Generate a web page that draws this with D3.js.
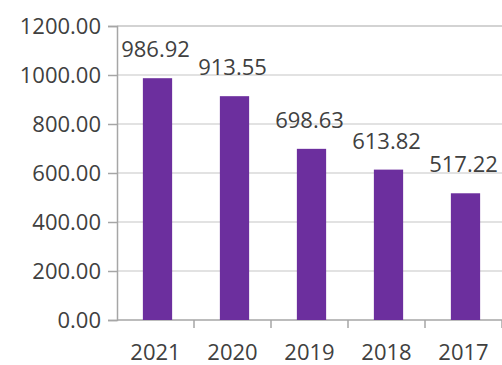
<!DOCTYPE html>
<html><head><meta charset="utf-8">
<script src="https://cdn.jsdelivr.net/npm/d3@7"></script>
<style>
html,body{margin:0;padding:0;background:#fff;}
svg{display:block;}
text{font-family:"Open Sans",sans-serif;}
</style></head>
<body><svg id="c" width="502" height="365"></svg>
<script>
const categories = ["2021","2020","2019","2018","2017"];
const values = [986.92, 913.55, 698.63, 613.82, 517.22];
const yTicks = [0,200,400,600,800,1000,1200];

(function(){
const svg = d3.select("#c");
const mLeft = 117, mRight = 502, mTop = 26, mBottom = 320;
const fs = 22;
const x = d3.scaleBand().domain(categories).range([mLeft, mRight]).paddingInner(0.62).paddingOuter(0.31);
const xb = d3.scaleBand().domain(categories).range([mLeft, mRight]);
const y = d3.scaleLinear().domain([0,1200]).range([mBottom, mTop]);

// gridlines
svg.append("g").selectAll("line").data(yTicks.filter(d=>d>0)).join("line")
  .attr("x1", mLeft).attr("x2", mRight)
  .attr("y1", d=>y(d)).attr("y2", d=>y(d))
  .attr("stroke", d=> d===1200 ? "#c4c4c4" : "#d9d9d9").attr("stroke-width", 1.5);

// y axis
const ya = svg.append("g").attr("transform", `translate(${mLeft},0)`)
  .call(d3.axisLeft(y).tickValues(yTicks).tickFormat(d3.format(".2f")).tickSize(9).tickPadding(7));
ya.select(".domain").attr("stroke", "#a6a6a6").attr("stroke-width", 1.5);
ya.selectAll(".tick line").attr("stroke", "#a6a6a6").attr("stroke-width", 1.5);
ya.selectAll("text").attr("font-size", fs).attr("fill", "#404040").attr("font-family", "Open Sans, sans-serif");

// x axis
const xa = svg.append("g").attr("transform", `translate(0,${mBottom})`);
xa.append("line").attr("x1", mLeft).attr("x2", mRight).attr("y1",0).attr("y2",0)
  .attr("stroke", "#a6a6a6").attr("stroke-width", 1.5);
xa.selectAll("line.tk").data(categories).join("line").attr("class","tk")
  .attr("x1", d=>xb(d)+xb.bandwidth()).attr("x2", d=>xb(d)+xb.bandwidth())
  .attr("y1", 0).attr("y2", 8).attr("stroke", "#a6a6a6").attr("stroke-width", 1.5);
xa.selectAll("text").data(categories).join("text")
  .attr("x", d=>xb(d)+xb.bandwidth()/2).attr("y", 40)
  .attr("text-anchor","middle").attr("font-size", fs).attr("fill","#404040")
  .text(d=>d);

// bars
svg.append("g").selectAll("rect").data(values).join("rect")
  .attr("x", (d,i)=>x(categories[i])+2).attr("width", x.bandwidth())
  .attr("y", d=>y(d)).attr("height", d=>mBottom - y(d))
  .attr("fill", "#6c2f9e");

// labels
svg.append("g").selectAll("text").data(values).join("text")
  .attr("x", (d,i)=>xb(categories[i])+xb.bandwidth()/2)
  .attr("y", d=>y(d)-21)
  .attr("text-anchor","middle").attr("font-size", fs).attr("fill","#404040")
  .text(d=>d3.format(".2f")(d));
})();
</script></body></html>
